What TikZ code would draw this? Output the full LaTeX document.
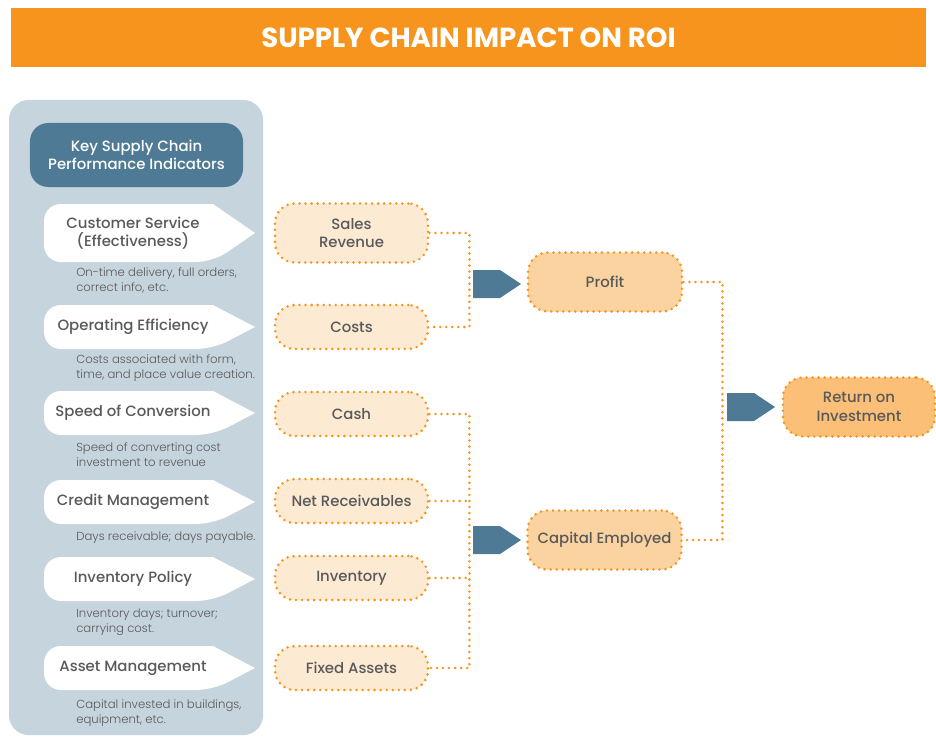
\documentclass[tikz,border=0pt]{standalone}
\usepackage{fontspec}
\setmainfont{Poppins}
\newfontfamily\medfont{Poppins Medium}
\newfontfamily\lightfont{Poppins Light}
\usetikzlibrary{positioning}
\definecolor{roiorange}{HTML}{F7941D}
\definecolor{panelgray}{HTML}{C6D4DE}
\definecolor{kpiblue}{HTML}{4E7A95}
\definecolor{labelgray}{HTML}{58595B}
\definecolor{lightpeach}{HTML}{FDEAD2}
\definecolor{midpeach}{HTML}{FBD3A0}
\definecolor{deeppeach}{HTML}{FBBF77}
\tikzstyle{dotline} = [draw=roiorange, line width=2pt, line cap=round, dash pattern=on 0pt off 4.3pt]
\tikzstyle{driver} = [dotline, fill=lightpeach, rounded corners=14pt, minimum width=38.25mm, minimum height=11mm, align=center, text=labelgray, font=\medfont\fontsize{10.6}{13}\selectfont]
\tikzstyle{tablabel} = [align=center, text=labelgray, font=\medfont\fontsize{10.6}{13}\selectfont]
\tikzstyle{desc} = [align=left, inner sep=0pt, anchor=base west, text=labelgray, font=\lightfont\fontsize{8.3}{10}\selectfont]

\begin{document}
\begin{tikzpicture}[x=0.25mm, y=-0.25mm]
\useasboundingbox (0,0) rectangle (936,737);

% title bar
\node [fill=roiorange, minimum width=228.75mm, minimum height=14.75mm, text=white, font=\fontsize{19.6}{22}\selectfont\bfseries] (title) at (468.5,37.5) {SUPPLY CHAIN IMPACT ON ROI};

% left panel with the indicators
\fill [panelgray, rounded corners=14pt] (9,100) rectangle (263,735);
\node [fill=kpiblue, rounded corners=13pt, minimum width=53.25mm, minimum height=16mm, align=center, text=white, font=\medfont\fontsize{10.6}{13}\selectfont] (kpi) at (136.5,155) {Key Supply Chain\\Performance Indicators};

\foreach \ty/\th/\tname/\ttext/\dy/\dtext in {
  233/58/custserv/{Customer Service\\(Effectiveness)}/291/{On-time delivery, full orders,\\correct info, etc.},
  327/44/opeff/{Operating Efficiency}/378/{Costs associated with form,\\time, and place value creation.},
  413/44/speedconv/{Speed of Conversion}/466/{Speed of converting cost\\investment to revenue},
  502/44/creditmgmt/{Credit Management}/540/{Days receivable; days payable.},
  579/44/invpolicy/{Inventory Policy}/632/{Inventory days; turnover;\\carrying cost.},
  668/44/assetmgmt/{Asset Management}/723/{Capital invested in buildings,\\equipment, etc.}}{
  \fill [white] (255,\ty) -- (213,{\ty-\th/2}) [rounded corners=12pt] -- (44,{\ty-\th/2}) -- (44,{\ty+\th/2}) -- (213,{\ty+\th/2}) [sharp corners] -- cycle;
  \node [tablabel] (\tname) at (133,\ty) {\ttext};
  \node [desc] (\tname-desc) at (76,\dy) {\dtext};
}

% financial drivers
\node [driver, minimum height=14.75mm] (salesrev) at (351.5,233) {Sales\\Revenue};
\node [driver] (costs) at (351.5,327) {Costs};
\node [driver] (cash) at (351.5,414) {Cash};
\node [driver] (netrec) at (351.5,501) {Net Receivables};
\node [driver] (inventory) at (351.5,578) {Inventory};
\node [driver] (fixedassets) at (351.5,668) {Fixed Assets};

\node [driver, fill=midpeach, minimum width=38.5mm, minimum height=14.75mm] (profit) at (605,282) {Profit};
\node [driver, fill=midpeach, minimum width=38.5mm, minimum height=14.75mm] (capital) at (604.5,540) {Capital Employed};
\node [driver, fill=deeppeach, minimum width=38mm, minimum height=14.75mm] (roi) at (859,407) {Return on\\Investment};

% dotted joins
\draw [dotline] (salesrev.east) -- ++(40,0) |- (costs.east);
\draw [dotline] (cash.east) -- ++(40,0) |- (fixedassets.east);
\draw [dotline] (netrec.east) -- ++(40,0);
\draw [dotline] (inventory.east) -- ++(40,0);
\draw [dotline] (profit.east) -- ++(39,0) |- (capital.east);

% blue pointers
\foreach \ax/\ay in {473/284, 473/540, 727/407}{
  \fill [kpiblue] (\ax,\ay-14) -- ++(27,0) -- ++(21,14) -- ++(-21,14) -- ++(-27,0) -- cycle;
}

\end{tikzpicture}
\end{document}
